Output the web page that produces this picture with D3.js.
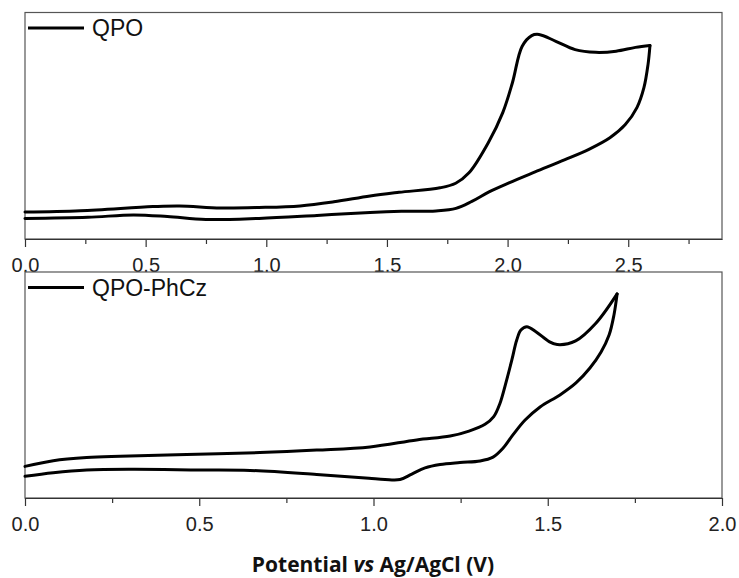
<!DOCTYPE html>
<html>
<head>
<meta charset="UTF-8">
<script src="https://d3js.org/d3.v7.min.js"></script>
<style>
  body { margin: 0; background: #fff; }
  .tick text { font-family: "Liberation Sans", Arial, sans-serif; font-size: 20px; fill: #222; }
</style>
</head>
<body>
<div id="chart"></div>
<script>
// QPO: forward (oxidation) scan and reverse scan, potential in V, current in arbitrary units
var qpoForwardV = [0.00, 0.23, 0.53, 0.64, 0.81, 0.97, 1.14, 1.28, 1.43, 1.55, 1.72, 1.785, 1.84, 1.92, 1.98, 2.02, 2.06, 2.10, 2.13, 2.20, 2.28, 2.365, 2.45, 2.53, 2.59];
var qpoForwardI = [11.9, 12.5, 14.3, 14.6, 13.7, 13.9, 14.6, 16.4, 19.0, 20.6, 22.6, 24.6, 29.2, 42.5, 55.8, 69.0, 85.0, 89.8, 90.3, 87.3, 83.6, 82.4, 82.9, 84.6, 85.4];
var qpoReverseV = [2.59, 2.582, 2.565, 2.536, 2.487, 2.424, 2.341, 2.238, 2.114, 2.006, 1.923, 1.852, 1.786, 1.703, 1.56, 1.43, 1.21, 0.97, 0.75, 0.59, 0.45, 0.26, 0.00];
var qpoReverseI = [85.4, 77.0, 66.8, 58.0, 50.4, 44.7, 39.8, 35.0, 29.6, 24.8, 20.8, 16.6, 13.5, 12.4, 12.2, 11.7, 10.4, 9.1, 8.6, 9.9, 10.6, 9.6, 9.1];

// QPO-PhCz
var czForwardV = [0.000, 0.081, 0.177, 0.273, 0.464, 0.674, 0.837, 0.990, 1.124, 1.220, 1.274, 1.320, 1.345, 1.362, 1.382, 1.397, 1.411, 1.423, 1.440, 1.466, 1.504, 1.527, 1.580, 1.638, 1.699];
var czForwardI = [14.0, 16.5, 17.9, 18.5, 19.3, 20.1, 21.2, 22.6, 25.7, 27.4, 29.6, 32.6, 36.0, 41.5, 52.2, 61.1, 69.9, 74.3, 75.8, 73.6, 69.2, 67.9, 69.5, 77.3, 90.3];
var czReverseV = [1.699, 1.690, 1.676, 1.653, 1.621, 1.581, 1.535, 1.478, 1.435, 1.400, 1.372, 1.343, 1.306, 1.248, 1.191, 1.148, 1.110, 1.076, 1.033, 0.987, 0.837, 0.646, 0.502, 0.310, 0.177, 0.081, 0.000];
var czReverseI = [90.3, 81.0, 72.1, 64.6, 57.5, 50.9, 45.6, 40.3, 34.5, 27.9, 22.1, 18.1, 16.4, 15.7, 14.8, 13.3, 10.6, 8.2, 8.2, 8.7, 10.4, 12.2, 12.4, 12.7, 12.4, 11.2, 9.6];

var topTicks = [0, 0.5, 1.0, 1.5, 2.0, 2.5];
var bottomTicks = [0, 0.5, 1.0, 1.5, 2.0];

var width = 739, height = 578;
var left = 25, right = 722;

var svg = d3.select("#chart").append("svg")
    .attr("width", width)
    .attr("height", height);

function zip(xs, ys) {
    return xs.map(function (x, i) { return [x, ys[i]]; });
}

function drawPanel(opt) {
    var x = d3.scaleLinear().domain([0, opt.xMax]).range([left, right]);
    var y = d3.scaleLinear().domain([0, 100]).range([opt.bottom, opt.top]);

    // frame
    svg.append("rect")
        .attr("x", left).attr("y", opt.top)
        .attr("width", right - left).attr("height", opt.bottom - opt.top)
        .attr("fill", "none").attr("stroke", "#555").attr("stroke-width", 1.2);

    // minor ticks
    var minor = d3.range(0.25, opt.xMax, 0.5);
    svg.append("g")
        .attr("transform", "translate(0," + opt.bottom + ")")
        .call(d3.axisBottom(x).tickValues(minor).tickSize(5).tickFormat(""))
        .call(function (g) { g.select(".domain").remove(); })
        .selectAll("line").attr("stroke", "#333").attr("stroke-width", 1.2);

    // major ticks
    var ax = svg.append("g")
        .attr("transform", "translate(0," + opt.bottom + ")")
        .call(d3.axisBottom(x).tickValues(opt.ticks).tickSize(8).tickSizeOuter(0).tickPadding(11)
            .tickFormat(d3.format(".1f")));
    ax.select(".domain").attr("stroke", "#333").attr("stroke-width", 1.2);
    ax.selectAll("line").attr("stroke", "#333").attr("stroke-width", 1.2);

    var line = d3.line()
        .x(function (d) { return x(d[0]); })
        .y(function (d) { return y(d[1]); })
        .curve(d3.curveCatmullRom.alpha(0.5));

    [opt.fwd, opt.rev].forEach(function (pts) {
        svg.append("path")
            .attr("d", line(pts))
            .attr("fill", "none")
            .attr("stroke", "#000")
            .attr("stroke-width", 3)
            .attr("stroke-linejoin", "round")
            .attr("stroke-linecap", "round");
    });

    // legend
    svg.append("line")
        .attr("x1", 28).attr("x2", 84)
        .attr("y1", opt.top + 15.5).attr("y2", opt.top + 15.5)
        .attr("stroke", "#000").attr("stroke-width", 3);
    svg.append("text")
        .attr("x", 92).attr("y", opt.top + 23.5)
        .style("font-family", "'Liberation Sans', Arial, sans-serif")
        .style("font-size", "23px")
        .attr("fill", "#111")
        .text(opt.name);
}

drawPanel({
    top: 12.5, bottom: 239, xMax: 2.8886, ticks: topTicks, name: "QPO",
    fwd: zip(qpoForwardV, qpoForwardI), rev: zip(qpoReverseV, qpoReverseI)
});

drawPanel({
    top: 272, bottom: 498, xMax: 2.0, ticks: bottomTicks, name: "QPO-PhCz",
    fwd: zip(czForwardV, czForwardI), rev: zip(czReverseV, czReverseI)
});

// x axis title
var title = svg.append("text")
    .attr("x", 373).attr("y", 572)
    .attr("text-anchor", "middle")
    .style("font-family", "'Open Sans', sans-serif")
    .style("font-size", "21px")
    .style("font-weight", "bold")
    .attr("fill", "#111");
title.append("tspan").text("Potential ");
title.append("tspan").style("font-style", "italic").text("vs");
title.append("tspan").text(" Ag/AgCl (V)");
</script>
</body>
</html>
